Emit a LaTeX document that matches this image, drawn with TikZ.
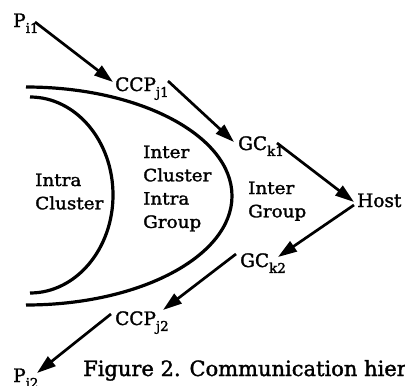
\documentclass[tikz,border=0pt]{standalone}
\usepackage{fontspec}
\setmainfont[FakeBold=1.6]{DejaVu Serif}
\newfontfamily\regfont[FakeStretch=1.08,FakeBold=1.6]{DejaVu Serif}
\usetikzlibrary{arrows.meta}
\newcommand\lblsub[1]{\raisebox{-0.32em}{\fontsize{13.5}{13.5}\selectfont #1}}
\newcommand\regtext[1]{\vtop{\baselineskip=23.3pt #1}}
\begin{document}
\begin{tikzpicture}[x=1pt,y=-1pt,
  lbl/.style={inner sep=0pt, anchor=base west, font=\fontsize{18.5}{22}\selectfont},
  reg/.style={inner sep=0pt, anchor=base west, font=\regfont\fontsize{17}{23}\selectfont},
  capt/.style={inner sep=0pt, anchor=base west, font=\fontsize{21}{25}\selectfont},
  arr/.style={line width=2.7pt, -{Triangle[length=19pt,width=12pt]}},
  bound/.style={line width=3.2pt}]
\useasboundingbox (0,0) rectangle (405,386);
% boundaries
\draw[bound] (26,87) arc[start angle=-90, end angle=90, x radius=206, y radius=109];
\draw[bound] (30,97) arc[start angle=-90, end angle=90, x radius=83, y radius=98];
% region texts
\node[reg] (r1) at (35,186) {\regtext{\hbox{Intra}\hbox{Cluster}}};
\node[reg] (r2) at (143,158) {\regtext{\hbox{Inter}\hbox{Cluster}\hbox{Intra}\hbox{Group}}};
\node[reg] (r3) at (248,194) {\regtext{\hbox{Inter}\hbox{Group}}};
% labels
\node[lbl] (pi1) at (13,27) {P\lblsub{i1}};
\node[lbl] (ccp1) at (115,91) {CCP\lblsub{j1}};
\node[lbl] (gc1) at (238,150) {GC\lblsub{k1}};
\node[lbl] (host) at (357,207) {Host};
\node[lbl] (gc2) at (240,267) {GC\lblsub{k2}};
\node[lbl] (ccp2) at (115,325) {CCP\lblsub{j2}};
\node[lbl] (pj2) at (13,382) {P\lblsub{j2}};
\node[capt] (cap) at (83,376) {Figure 2. Communication hier};
% arrows
\draw[arr] ([shift={(22,-5)}]pi1.base west) -- ([shift={(-2,-9)}]ccp1.base west);
\draw[arr] ([shift={(53,-10)}]ccp1.base west) -- ([shift={(-4,-8)}]gc1.base west);
\draw[arr] ([shift={(39,-7)}]gc1.base west) -- ([shift={(-3,-5)}]host.base west);
\draw[arr] ([shift={(-3,-2)}]host.base west) -- ([shift={(38,-10)}]gc2.base west);
\draw[arr] ([shift={(-4,-13)}]gc2.base west) -- ([shift={(48,-15)}]ccp2.base west);
\draw[arr] ([shift={(-4,-11)}]ccp2.base west) -- ([shift={(24,-9)}]pj2.base west);
\end{tikzpicture}
\end{document}
